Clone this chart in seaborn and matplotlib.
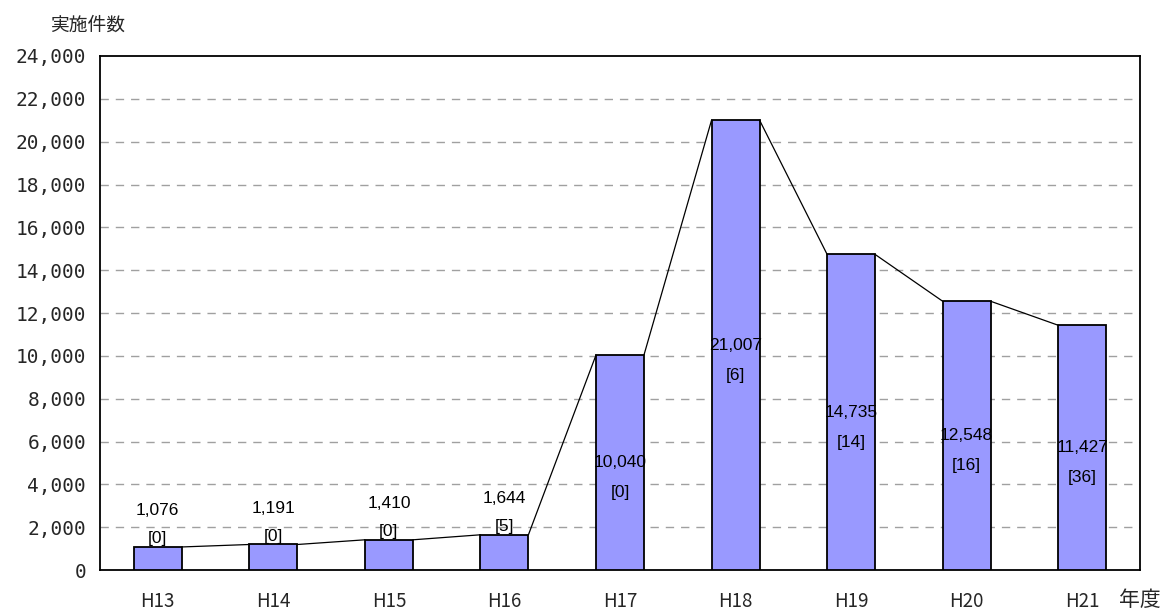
import matplotlib
matplotlib.use('Agg')
import matplotlib.pyplot as plt
import matplotlib.ticker as mticker
import seaborn as sns
import pandas as pd

# Data
years = ['H13', 'H14', 'H15', 'H16', 'H17', 'H18', 'H19', 'H20', 'H21']
counts = [1076, 1191, 1410, 1644, 10040, 21007, 14735, 12548, 11427]
sub_counts = [0, 0, 0, 5, 0, 6, 14, 16, 36]

df = pd.DataFrame({'year': years, 'count': counts})

sns.set_theme(style='white')
plt.rcParams['font.family'] = ['Noto Sans CJK JP', 'DejaVu Sans']

fig = plt.figure(figsize=(11.65, 6.1), dpi=100)
ax = fig.add_axes([100 / 1165, 40 / 610, 1040 / 1165, 514 / 610])

bar_w = 0.415
sns.barplot(data=df, x='year', y='count', color='#9999FF', width=bar_w,
            edgecolor='black', linewidth=1.3, saturation=1, ax=ax, zorder=3)

# series lines between bar tops
for i in range(len(counts) - 1):
    ax.plot([i + bar_w / 2, i + 1 - bar_w / 2], [counts[i], counts[i + 1]],
            color='black', lw=0.9, zorder=4)

# labels
lab_font = dict(family=['Liberation Sans', 'DejaVu Sans'], fontsize=12.5,
                ha='center', va='center', color='black', zorder=5)
for i, (v, s) in enumerate(zip(counts, sub_counts)):
    if v < 5000:
        y_sub = v + 380
        y_val = y_sub + 1300
    else:
        y_val = v / 2
        y_sub = y_val - 1400
    ax.text(i, y_val, f'{v:,}', **lab_font)
    ax.text(i, y_sub, f'[{s}]', **lab_font)

ax.set_xlim(-0.5, len(years) - 0.5)
ax.set_ylim(0, 24000)
ax.set_yticks(list(range(0, 24001, 2000)))
ax.yaxis.set_major_formatter(mticker.FuncFormatter(lambda v, p: f'{int(v):,}'))

for y in range(2000, 24000, 2000):
    ax.axhline(y, color='#A0A0A0', lw=1, ls=(0, (6, 5)), zorder=1)

ax.set_xticks(range(len(years)))
ax.set_xticklabels(years)
ax.set_xticks([i + 0.5 for i in range(len(years) - 1)], minor=True)
ax.tick_params(axis='x', which='major', length=0, pad=15, labelsize=13.5)
ax.tick_params(axis='x', which='minor', direction='in', length=5, width=1, color='black')
ax.tick_params(axis='y', which='major', direction='out', length=4, width=1,
               color='black', labelsize=14, pad=6)
for lab in ax.get_yticklabels():
    lab.set_family(['DejaVu Sans Mono'])
ax.set_xlabel('')
ax.set_ylabel('')

for sp in ax.spines.values():
    sp.set_visible(True)
    sp.set_color('black')
    sp.set_linewidth(1.3)

fig.text(88 / 1165, 1 - 25 / 610, '実施件数', fontsize=13.5, ha='center', va='center')
fig.text(1140 / 1165, 1 - 600 / 610, '年度', fontsize=15, ha='center', va='center')

fig.savefig('out.png', dpi=100)
